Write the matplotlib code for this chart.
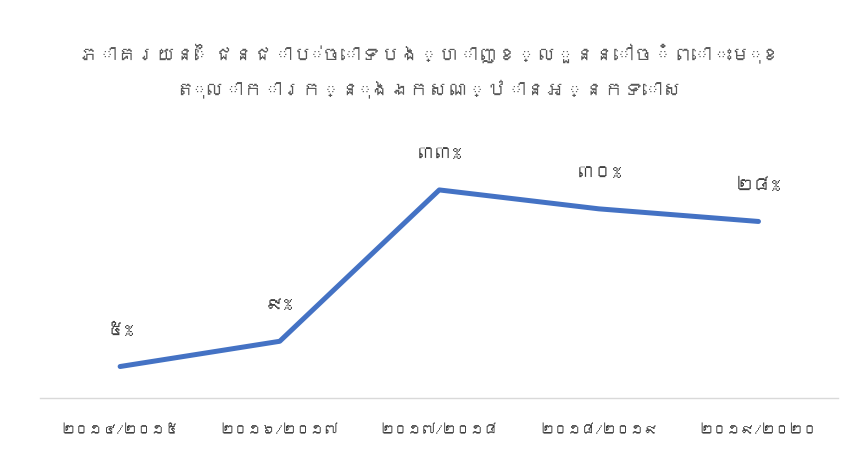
import matplotlib
matplotlib.use("Agg")
import matplotlib.pyplot as plt
from matplotlib import font_manager
from matplotlib.ft2font import FT2Font

# data
years = ["២០១៤/២០១៥", "២០១៦/២០១៧", "២០១៧/២០១៨", "២០១៨/២០១៩", "២០១៩/២០២០"]
values = [5, 9, 33, 30, 28]
value_labels = ["៥%", "៩%", "៣៣%", "៣០%", "២៨%"]
# wrapped in a different place than the original so that it fits the width
title = "ភាគរយនៃជនជាប់ចោទបង្ហាញខ្លួននៅចំពោះមុខ\nតុលាការក្នុងឯកសណ្ឋានអ្នកទោស"

# look for any installed font that has Khmer glyphs
khmer_fonts = []
for path in font_manager.findSystemFonts():
    try:
        if 0x1780 in FT2Font(path).get_charmap():
            name = font_manager.FontProperties(fname=path).get_name()
            if name not in khmer_fonts:
                khmer_fonts.append(name)
    except Exception:
        pass
plt.rcParams['font.family'] = khmer_fonts + ['DejaVu Sans']

fig = plt.figure(figsize=(8.58, 4.57), dpi=100)
ax = fig.add_axes([0.047, 0.129, 0.93, 0.552])

x = list(range(len(years)))
ax.plot(x, values, color="#4472C4", lw=3.6, solid_capstyle="round", solid_joinstyle="round")

for xi, v, lab in zip(x, values, value_labels):
    ax.annotate(lab, (xi, v), xytext=(0, 26), textcoords="offset points",
                ha="center", va="center", fontsize=13, color="#404040")

ax.set_xlim(-0.5, 4.5)
ax.set_ylim(0, 40)
ax.set_xticks(x)
ax.set_xticklabels(years, fontsize=10, color="#404040")
ax.tick_params(axis="x", length=0, pad=19)
ax.set_yticks([])
for s in ["top", "right", "left"]:
    ax.spines[s].set_visible(False)
ax.spines["bottom"].set_color("#D9D9D9")
ax.spines["bottom"].set_linewidth(1)

fig.text(0.5, 0.845, title, ha="center", va="center", fontsize=14, color="#595959",
         linespacing=2.0)

fig.savefig("out.png", dpi=100)
